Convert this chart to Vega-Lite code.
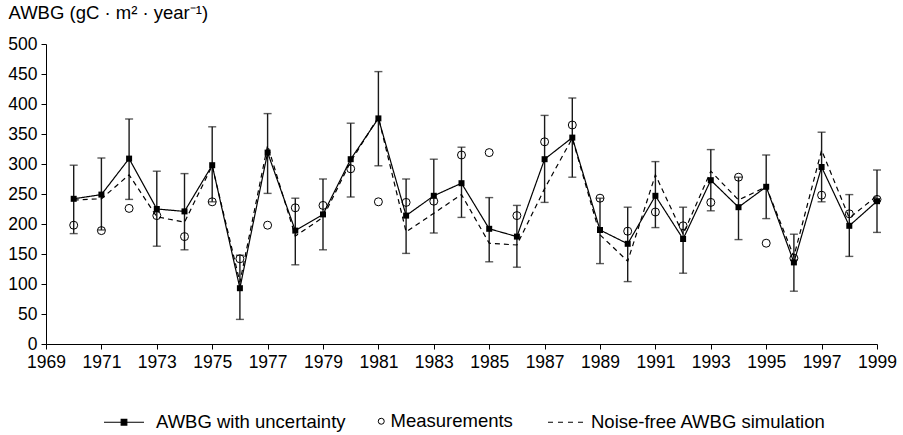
{
  "$schema": "https://vega.github.io/schema/vega-lite/v6.json",
  "width": 831,
  "height": 300,
  "autosize": {"type": "none"},
  "padding": {"left": 46, "top": 44, "right": 26, "bottom": 91},
  "background": "white",
  "data": {
    "values": [
      {"year": 1970, "awbg": 242, "lo": 184, "hi": 298, "meas": 198, "sim": 240},
      {"year": 1971, "awbg": 249, "lo": 190, "hi": 310, "meas": 189, "sim": 242},
      {"year": 1972, "awbg": 309, "lo": 241, "hi": 375, "meas": 226, "sim": 282},
      {"year": 1973, "awbg": 225, "lo": 163, "hi": 288, "meas": 214, "sim": 212},
      {"year": 1974, "awbg": 221, "lo": 157, "hi": 284, "meas": 179, "sim": 203},
      {"year": 1975, "awbg": 298, "lo": 237, "hi": 362, "meas": 237, "sim": 297},
      {"year": 1976, "awbg": 93, "lo": 41, "hi": 148, "meas": 142, "sim": 103},
      {"year": 1977, "awbg": 319, "lo": 251, "hi": 384, "meas": 198, "sim": 331},
      {"year": 1978, "awbg": 189, "lo": 132, "hi": 243, "meas": 227, "sim": 180},
      {"year": 1979, "awbg": 216, "lo": 157, "hi": 275, "meas": 231, "sim": 211},
      {"year": 1980, "awbg": 308, "lo": 245, "hi": 368, "meas": 292, "sim": 304},
      {"year": 1981, "awbg": 376, "lo": 297, "hi": 454, "meas": 237, "sim": 378},
      {"year": 1982, "awbg": 214, "lo": 151, "hi": 275, "meas": 236, "sim": 187},
      {"year": 1983, "awbg": 247, "lo": 185, "hi": 308, "meas": 238, "sim": 218},
      {"year": 1984, "awbg": 268, "lo": 211, "hi": 328, "meas": 315, "sim": 249},
      {"year": 1985, "awbg": 192, "lo": 137, "hi": 244, "meas": 319, "sim": 168},
      {"year": 1986, "awbg": 179, "lo": 128, "hi": 231, "meas": 214, "sim": 165},
      {"year": 1987, "awbg": 308, "lo": 236, "hi": 381, "meas": 337, "sim": 259},
      {"year": 1988, "awbg": 344, "lo": 278, "hi": 410, "meas": 365, "sim": 343},
      {"year": 1989, "awbg": 190, "lo": 134, "hi": 243, "meas": 243, "sim": 182},
      {"year": 1990, "awbg": 167, "lo": 104, "hi": 228, "meas": 188, "sim": 138},
      {"year": 1991, "awbg": 247, "lo": 194, "hi": 304, "meas": 220, "sim": 282},
      {"year": 1992, "awbg": 175, "lo": 118, "hi": 228, "meas": 197, "sim": 183},
      {"year": 1993, "awbg": 273, "lo": 222, "hi": 324, "meas": 236, "sim": 288},
      {"year": 1994, "awbg": 228, "lo": 174, "hi": 278, "meas": 278, "sim": 240},
      {"year": 1995, "awbg": 262, "lo": 209, "hi": 315, "meas": 168, "sim": 262},
      {"year": 1996, "awbg": 136, "lo": 88, "hi": 183, "meas": 143, "sim": 146},
      {"year": 1997, "awbg": 295, "lo": 237, "hi": 353, "meas": 248, "sim": 323},
      {"year": 1998, "awbg": 197, "lo": 146, "hi": 249, "meas": 217, "sim": 210},
      {"year": 1999, "awbg": 238, "lo": 186, "hi": 290, "meas": 241, "sim": 247}
    ]
  },
  "encoding": {
    "x": {
      "field": "year",
      "type": "quantitative",
      "scale": {"domain": [1969, 1999], "nice": false, "zero": false},
      "axis": {
        "title": null,
        "values": [1969, 1971, 1973, 1975, 1977, 1979, 1981, 1983, 1985, 1987, 1989, 1991, 1993, 1995, 1997, 1999],
        "format": "d",
        "labelFlush": false,
        "labelOverlap": false,
        "labelPadding": 4,
        "tickSize": 5
      }
    }
  },
  "layer": [
    {
      "mark": {"type": "errorbar", "color": "#1a1a1a", "thickness": 1.4, "ticks": {"size": 8, "thickness": 1.4, "color": "#1a1a1a"}},
      "encoding": {
        "y": {
          "field": "lo",
          "type": "quantitative",
          "title": "AWBG (gC · m² · year⁻¹)",
          "scale": {"domain": [0, 500], "nice": false},
          "axis": {"values": [0, 50, 100, 150, 200, 250, 300, 350, 400, 450, 500], "labelOverlap": false, "format": "d"}
        },
        "y2": {"field": "hi"}
      }
    },
    {
      "mark": {"type": "line", "color": "black", "strokeWidth": 1.2},
      "encoding": {
        "y": {
          "field": "sim",
          "type": "quantitative",
          "title": "AWBG (gC · m² · year⁻¹)",
          "axis": {"values": [0, 50, 100, 150, 200, 250, 300, 350, 400, 450, 500], "labelOverlap": false, "format": "d"}
        },
        "strokeDash": {
          "datum": "Noise-free AWBG simulation",
          "type": "nominal",
          "scale": {
            "domain": ["AWBG with uncertainty", "Noise-free AWBG simulation"],
            "range": [[1, 0], [5, 4]]
          },
          "legend": {
            "orient": "none",
            "legendX": 57,
            "legendY": 357,
            "direction": "horizontal",
            "title": null,
            "padding": 0,
            "symbolSize": 1600,
            "labelOffset": 11,
            "columnPadding": 192,
            "labelFont": "Liberation Sans",
            "labelFontSize": 18.5,
            "labelColor": "black",
            "labelLimit": 400,
            "symbolStrokeColor": "black",
            "symbolStrokeWidth": 1.2,
            "encode": {
              "symbols": {
                "update": {
                  "shape": {"signal": "datum.value === 'AWBG with uncertainty' ? 'M-1,0H1M-0.14,-0.14H0.14V0.14H-0.14Z' : 'M-0.55,0H-0.25M-0.05,0H0.25M0.45,0H0.75M0.95,0H1.25'"},
                  "fill": {"signal": "datum.value === 'AWBG with uncertainty' ? 'black' : 'transparent'"},
                  "stroke": {"value": "black"},
                  "strokeDash": {"value": [1, 0]},
                  "strokeWidth": {"value": 1.2},
                  "opacity": {"value": 1}
                }
              }
            }
          }
        }
      }
    },
    {
      "mark": {"type": "line", "color": "black", "strokeWidth": 1.2},
      "encoding": {
        "y": {
          "field": "awbg",
          "type": "quantitative",
          "title": "AWBG (gC · m² · year⁻¹)",
          "axis": {"values": [0, 50, 100, 150, 200, 250, 300, 350, 400, 450, 500], "labelOverlap": false, "format": "d"}
        },
        "strokeDash": {"datum": "AWBG with uncertainty", "type": "nominal"}
      }
    },
    {
      "mark": {"type": "point", "filled": false, "color": "black", "size": 64, "strokeWidth": 1, "opacity": 1},
      "encoding": {
        "y": {
          "field": "meas",
          "type": "quantitative",
          "title": "AWBG (gC · m² · year⁻¹)",
          "axis": {"values": [0, 50, 100, 150, 200, 250, 300, 350, 400, 450, 500], "labelOverlap": false, "format": "d"}
        },
        "shape": {
          "datum": "Measurements",
          "type": "nominal",
          "scale": {"domain": ["Measurements"], "range": ["circle"]},
          "legend": {
            "orient": "none",
            "legendX": 326,
            "legendY": 368,
            "direction": "horizontal",
            "title": null,
            "padding": 0,
            "symbolSize": 36,
            "labelOffset": 0,
            "labelFont": "Liberation Sans",
            "labelFontSize": 18.5,
            "labelColor": "black",
            "labelLimit": 400,
            "symbolFillColor": "transparent",
            "symbolStrokeColor": "black",
            "symbolStrokeWidth": 1,
            "encode": {
              "symbols": {
                "update": {
                  "fill": {"value": "transparent"},
                  "stroke": {"value": "black"},
                  "strokeWidth": {"value": 1},
                  "opacity": {"value": 1}
                }
              }
            }
          }
        }
      }
    },
    {
      "mark": {"type": "point", "shape": "square", "filled": true, "color": "black", "size": 36, "opacity": 1},
      "encoding": {
        "y": {
          "field": "awbg",
          "type": "quantitative",
          "title": "AWBG (gC · m² · year⁻¹)",
          "axis": {"values": [0, 50, 100, 150, 200, 250, 300, 350, 400, 450, 500], "labelOverlap": false, "format": "d"}
        }
      }
    }
  ],
  "config": {
    "view": {"stroke": null},
    "font": "Liberation Sans",
    "axis": {
      "grid": false,
      "domainColor": "black",
      "domainWidth": 1,
      "tickColor": "black",
      "tickWidth": 1,
      "tickSize": 5,
      "labelColor": "black",
      "labelFont": "Liberation Sans",
      "labelFontSize": 17.5
    },
    "axisY": {
      "labelPadding": 4,
      "titleAngle": 0,
      "titleX": -38,
      "titleY": -26,
      "titleAlign": "left",
      "titleBaseline": "alphabetic",
      "titleFont": "Liberation Sans",
      "titleFontSize": 18.5,
      "titleFontWeight": "normal",
      "titleColor": "black"
    }
  }
}
